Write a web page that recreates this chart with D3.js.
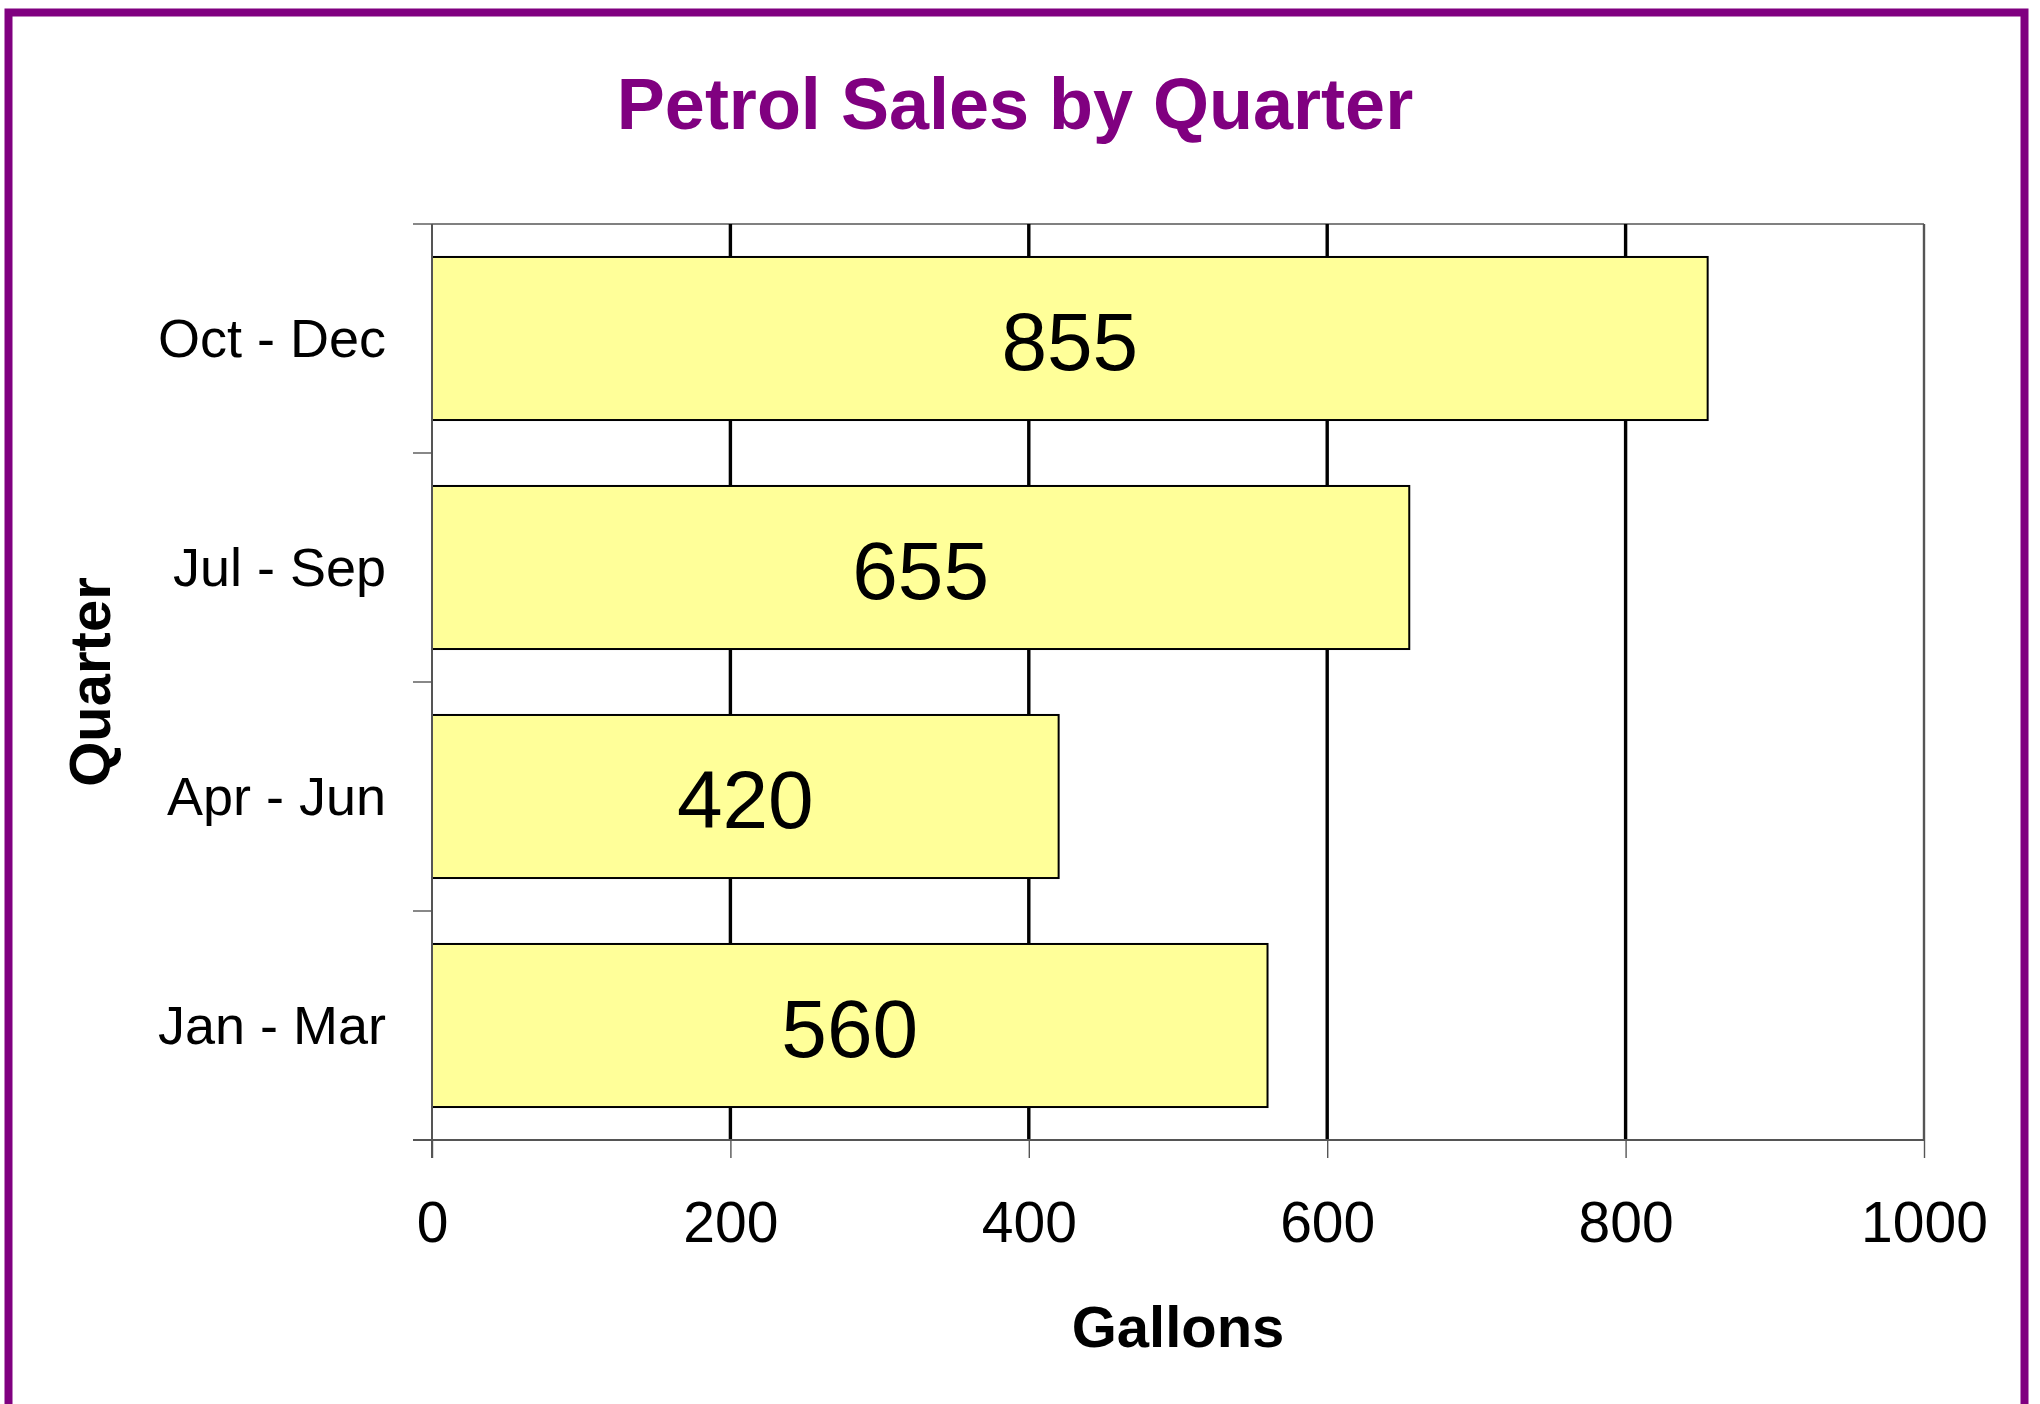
<!DOCTYPE html>
<html>
<head>
<meta charset="utf-8">
<script src="https://cdn.jsdelivr.net/npm/d3@7"></script>
<style>
  html, body { margin: 0; padding: 0; background: #fff; }
  svg { display: block; }
  text { font-family: "Liberation Sans", Arial, sans-serif; }
</style>
</head>
<body>
<svg id="chart" width="2040" height="1404"></svg>
<script>
const categories = ["Oct - Dec", "Jul - Sep", "Apr - Jun", "Jan - Mar"];
const values = [855, 655, 420, 560];
const xTicks = [0, 200, 400, 600, 800, 1000];
const gridValues = [200, 400, 600, 800];

const svg = d3.select("#chart");
const W = 2040, H = 1404;
const m = { left: 432, right: 2040 - 1924, top: 224, bottom: 1404 - 1140 };

// outer purple frame
svg.append("rect")
  .attr("x", 8.5).attr("y", 12.5)
  .attr("width", 2016).attr("height", 1440)
  .attr("fill", "#fff")
  .attr("stroke", "#800080").attr("stroke-width", 8);

const x = d3.scaleLinear().domain([0, 1000]).range([m.left, W - m.right]);
const y = d3.scaleBand().domain(categories).range([m.top, H - m.bottom])
  .paddingInner(0.288).paddingOuter(0.144);

// plot area border (top & right)
svg.append("line")
  .attr("x1", x(0)).attr("x2", x(1000)).attr("y1", m.top).attr("y2", m.top)
  .attr("stroke", "#808080").attr("stroke-width", 2);
svg.append("line")
  .attr("x1", x(1000)).attr("x2", x(1000)).attr("y1", m.top).attr("y2", H - m.bottom)
  .attr("stroke", "#555").attr("stroke-width", 2.4);

// gridlines
svg.append("g").selectAll("line").data(gridValues).join("line")
  .attr("x1", d => x(d)).attr("x2", d => x(d))
  .attr("y1", m.top).attr("y2", H - m.bottom)
  .attr("stroke", "#000").attr("stroke-width", 3.4);

// bars
svg.append("g").selectAll("rect").data(values).join("rect")
  .attr("x", x(0))
  .attr("y", (d, i) => y(categories[i]))
  .attr("width", d => x(d) - x(0))
  .attr("height", y.bandwidth())
  .attr("fill", "#FFFF99")
  .attr("stroke", "#000").attr("stroke-width", 2);

// value labels
svg.append("g").selectAll("text").data(values).join("text")
  .attr("x", d => (x(0) + x(d)) / 2)
  .attr("y", (d, i) => y(categories[i]) + y.bandwidth() / 2)
  .attr("dy", "0.38em")
  .attr("text-anchor", "middle")
  .attr("font-size", 82)
  .attr("fill", "#000")
  .text(d => d);

// x axis
const xAxis = d3.axisBottom(x).tickValues(xTicks).tickSize(18).tickPadding(44).tickFormat(d3.format("d"));
const gx = svg.append("g").attr("transform", `translate(0,${H - m.bottom})`).call(xAxis);
gx.select(".domain").attr("stroke", "#555").attr("stroke-width", 2)
  .attr("d", `M${m.left - 19},0H${x(1000)}`);
gx.selectAll(".tick line").attr("stroke", "#555").attr("stroke-width", 1.4);
gx.selectAll(".tick text").attr("font-size", 57).attr("fill", "#000")
  .attr("font-family", "'Liberation Sans', Arial, sans-serif").attr("dy", "0.71em");

// y axis: ticks at band boundaries
const yAxisG = svg.append("g");
yAxisG.append("line")
  .attr("x1", m.left).attr("x2", m.left).attr("y1", m.top).attr("y2", H - m.bottom + 18)
  .attr("stroke", "#555").attr("stroke-width", 2);
const boundaries = categories.map(c => y(c) - y.step() * y.paddingInner() / 2);
boundaries.push(H - m.bottom);
yAxisG.selectAll("line.tk").data(boundaries).join("line").attr("class", "tk")
  .attr("x1", m.left - 19).attr("x2", m.left)
  .attr("y1", d => d).attr("y2", d => d)
  .attr("stroke", "#555").attr("stroke-width", 1.4);
yAxisG.selectAll("text").data(categories).join("text")
  .attr("x", m.left - 46)
  .attr("y", d => y(d) + y.bandwidth() / 2 - 1)
  .attr("dy", "0.355em")
  .attr("text-anchor", "end")
  .attr("font-size", 54)
  .attr("fill", "#000")
  .text(d => d);

// title
svg.append("text")
  .attr("x", 1015).attr("y", 129)
  .attr("text-anchor", "middle")
  .attr("font-size", 72).attr("font-weight", "bold")
  .attr("fill", "#800080")
  .text("Petrol Sales by Quarter");

// axis titles
svg.append("text")
  .attr("x", (x(0) + x(1000)) / 2).attr("y", 1347)
  .attr("text-anchor", "middle")
  .attr("font-size", 58).attr("font-weight", "bold")
  .attr("fill", "#000")
  .text("Gallons");

svg.append("text")
  .attr("transform", `translate(110,${(m.top + H - m.bottom) / 2}) rotate(-90)`)
  .attr("text-anchor", "middle")
  .attr("font-size", 58).attr("font-weight", "bold")
  .attr("fill", "#000")
  .text("Quarter");
</script>
</body>
</html>
